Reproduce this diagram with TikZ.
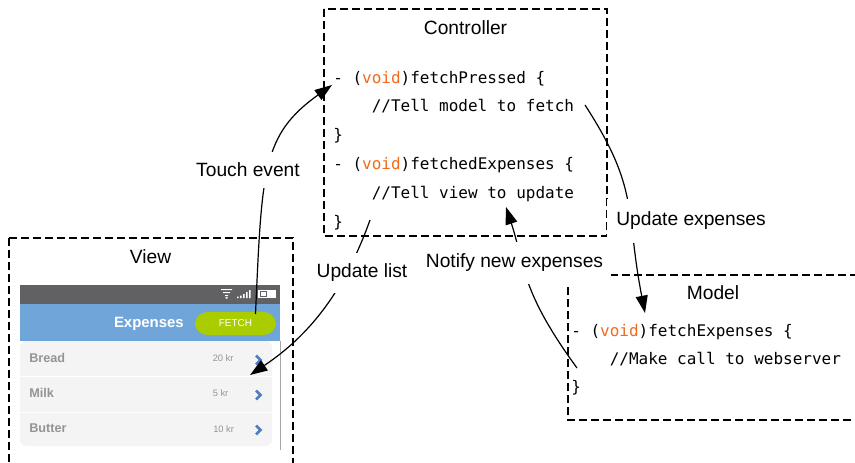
\documentclass[tikz,border=0pt]{standalone}
\usepackage{fontspec}
\setmainfont{Liberation Sans}
\setmonofont{DejaVu Sans Mono}
\usetikzlibrary{arrows.meta}
\definecolor{voidc}{HTML}{F26A1B}
\definecolor{barc}{HTML}{616163}
\definecolor{bluec}{HTML}{70A5DA}
\definecolor{greenc}{HTML}{A9CD00}
\definecolor{rowc}{HTML}{F4F4F4}
\definecolor{greyt}{HTML}{949494}
\definecolor{chev}{HTML}{4F7DC4}
\newcommand{\voidk}{{\color{voidc}void}}
\tikzset{
  box/.style={draw=black,line width=0.85pt,dash pattern=on 6pt off 3pt},
  title/.style={font=\fontsize{14.4}{16}\selectfont,inner sep=0pt},
  lbl/.style={font=\fontsize{14.4}{16}\selectfont,fill=white,inner xsep=7pt,inner ysep=8pt},
  code/.style={font=\ttfamily\fontsize{12}{14}\selectfont,anchor=base west,inner sep=0pt},
  flow/.style={line width=0.9pt,-{Triangle[length=13pt,width=9pt]}},
  rowname/.style={font=\bfseries\fontsize{9.5}{10}\selectfont,text=greyt,anchor=west,inner sep=0pt},
  rowval/.style={font=\fontsize{7}{8}\selectfont,text=greyt,anchor=west,inner sep=0pt},
  chevron/.style={chev,line width=2pt},
}
\begin{document}
\begin{tikzpicture}[x=0.75pt,y=-0.75pt]
\useasboundingbox (0,0) rectangle (855,463);
\clip (0,0) rectangle (855,463);
\fill[white] (0,0) rectangle (855,463);
% boxes
\draw[box] (324,9) rectangle (607,236);
\draw[box] (9,238) rectangle (293,480);
\draw[box] (568,275) rectangle (880,420);
% phone
\fill[barc] (20,285) rectangle (280,304);
\fill[bluec] (20,304) rectangle (280,341);
\draw[black!35,line width=0.5pt] (280,341) -- (280,450);
\fill[rowc,rounded corners=5pt] (20,341) rectangle (272,446);
\draw[white,line width=0.6pt] (20,376) -- (272,376) (20,412) -- (272,412);
% status icons
\fill[white] (221,289) -- (232,289) -- (232,290) -- (221,290) -- cycle
  (223,292) -- (230,292) -- (230,293) -- (223,293) -- cycle
  (225,295) -- (228,295) -- (228,296) -- (225,296) -- cycle
  (225.5,297) rectangle (227.5,298.5);
\fill[white] (237,296.5) rectangle (238.5,298) (240,295.5) rectangle (241.5,298)
  (243,294) rectangle (244.5,298) (246,292) rectangle (247.5,298) (249,290) rectangle (250.5,298);
\fill[white] (258,290) rectangle (276,298);
\draw[barc,line width=0.5pt] (260,291.5) rectangle (266,296.5);
% button
\node[fill=greenc,rounded corners=9.5pt,minimum width=61pt,minimum height=17.25pt,inner sep=0pt,text=white,font=\fontsize{7.5}{9}\selectfont] (fetch) at (235.5,323.5) {FETCH};
\node[anchor=base east,text=white,font=\bfseries\fontsize{11.2}{12}\selectfont,inner sep=0pt] (exp) at (184,327) {Expenses};
% rows
\node[rowname] (r1) at (29,357.5) {Bread};
\node[rowname] (r2) at (29,393) {Milk};
\node[rowname] (r3) at (29,428.5) {Butter};
\node[rowval] (v1) at (212.5,358.5) {20 kr};
\node[rowval] (v2) at (212.5,393.5) {5 kr};
\node[rowval] (v3) at (213,429) {10 kr};
\foreach \yy in {360,395,430}{\draw[chevron] (256,\yy-4.5) -- (260.5,\yy) -- (256,\yy+4.5);}
% titles
\node[title] (ctitle) at (465.5,28) {Controller};
\node[title] (vtitle) at (150.5,257) {View};
\node[title] (mtitle) at (713,293) {Model};
% code
\node[code] (c1) at (333,83.5) {- (\voidk)fetchPressed \{};
\node[code] (c2) at (371.5,112) {//Tell model to fetch};
\node[code] (c3) at (333,141) {\}};
\node[code] (c4) at (333,169.5) {- (\voidk)fetchedExpenses \{};
\node[code] (c5) at (371.5,199) {//Tell view to update};
\node[code] (c6) at (333,227) {\}};
\node[code] (m1) at (571,336) {- (\voidk)fetchExpenses \{};
\node[code] (m2) at (609.5,364) {//Make call to webserver};
\node[code] (m3) at (571,392) {\}};
% anchors
\coordinate (touchS) at (255.5,314);
\coordinate (touchE) at (332,85);
\coordinate (listS) at (370,220);
\coordinate (listE) at (250,375);
\coordinate (updS) at (585,105);
\coordinate (updE) at (645,313);
\coordinate (notS) at (577,368);
\coordinate (notE) at (506,207);
% connectors
\draw[flow] (touchS) .. controls (262,170) and (262,135) .. (touchE);
\draw[flow] (listS) .. controls (345,290) and (310,335) .. (listE);
\draw[flow] (updS) .. controls (640,190) and (625,210) .. (updE);
\draw[flow] (notS) .. controls (520,290) and (525,265) .. (notE);
% labels
\node[lbl] (ltouch) at (248,170) {Touch event};
\node[lbl,inner ysep=9.5pt] (lupd) at (691,221) {Update expenses};
\node[lbl,inner ysep=0pt,inner xsep=6pt,anchor=base,text height=18.75pt,text depth=12.75pt] (lnot) at (514.5,267) {Notify new expenses};
\node[lbl] (llist) at (362,273) {Update list};
\end{tikzpicture}
\end{document}
